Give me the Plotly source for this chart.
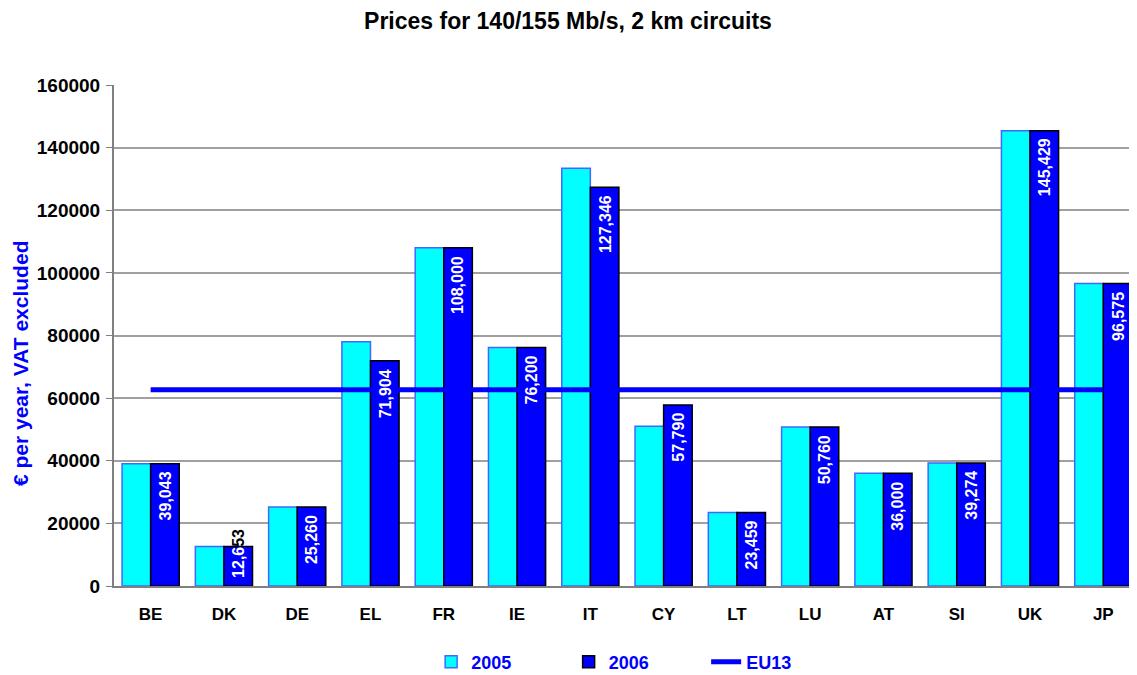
import plotly.graph_objects as go

categories = ["BE", "DK", "DE", "EL", "FR", "IE", "IT", "CY", "LT", "LU", "AT", "SI", "UK", "JP"]
prices_2005 = [39043, 12653, 25260, 78000, 108000, 76200, 133400, 51000, 23459, 50760, 36000, 39274, 145429, 96575]
prices_2006 = [39043, 12653, 25260, 71904, 108000, 76200, 127346, 57790, 23459, 50760, 36000, 39274, 145429, 96575]
eu13 = [62700] * len(categories)
y_ticks = [0, 20000, 40000, 60000, 80000, 100000, 120000, 140000, 160000]

FONT = "Liberation Sans, Arial, sans-serif"
BLUE = "#0000FF"

fig = go.Figure()
fig.add_trace(go.Bar(
    x=categories, y=prices_2005, name="2005",
    marker=dict(color="#00FFFF", line=dict(color="#4068FF", width=1.5)),
))
fig.add_trace(go.Bar(
    x=categories, y=prices_2006, name="2006",
    marker=dict(color=BLUE, line=dict(color="#000000", width=1.5)),
))
fig.add_trace(go.Scatter(
    x=categories, y=eu13, name="EU13", mode="lines",
    line=dict(color=BLUE, width=5),
))

# value labels on the 2006 bars (drawn above the EU13 line)
for cat, val in zip(categories, prices_2006):
    label = f"{val:,}"
    if val < 20000:
        # label longer than the bar: start from the base, overflow part in black
        text = f"<b>{label[:4]}<span style='color:black'>{label[4:]}</span></b>"
        fig.add_annotation(
            x=cat, y=0, xref="x", yref="y", text=text,
            showarrow=False, textangle=-90, xanchor="center", yanchor="bottom",
            xshift=14.5, yshift=6,
            font=dict(family=FONT, size=16, color="white"),
        )
    else:
        fig.add_annotation(
            x=cat, y=val, xref="x", yref="y", text=f"<b>{label}</b>",
            showarrow=False, textangle=-90, xanchor="center", yanchor="top",
            xshift=14.5, yshift=-6,
            font=dict(family=FONT, size=16, color="white"),
        )

# y-axis title
fig.add_annotation(
    x=-0.0919, y=0.445, xref="paper", yref="paper",
    text="<b>€ per year, VAT excluded</b>", showarrow=False, textangle=-90,
    xanchor="center", yanchor="middle",
    font=dict(family=FONT, size=21, color=BLUE),
)

fig.update_layout(
    width=1129, height=667,
    margin=dict(l=106, r=0, t=77, b=89),
    paper_bgcolor="white", plot_bgcolor="white",
    barmode="group", bargap=0.22, bargroupgap=0,
    title=dict(text="<b>Prices for 140/155 Mb/s, 2 km circuits</b>",
               x=0.496, xref="container", xanchor="center",
               y=0.981, yref="container", yanchor="middle",
               font=dict(family=FONT, size=23, color="black")),
    font=dict(family=FONT),
    legend=dict(orientation="h", x=0.31, xanchor="left",
                y=0.0195, yref="container", yanchor="middle",
                font=dict(family=FONT, size=18, color=BLUE, weight="bold"),
                entrywidth=92.5, entrywidthmode="pixels", traceorder="normal"),
    showlegend=True,
)
fig.update_xaxes(
    range=[-0.5, 13.46], showline=True, linecolor="#808080", linewidth=2,
    tickfont=dict(family=FONT, size=17, color="black", weight="bold"),
    ticks="", showgrid=False, ticklabelstandoff=12,
)
fig.update_yaxes(
    range=[0, 160000], tickvals=y_ticks, ticktext=[str(v) for v in y_ticks],
    showline=True, linecolor="#808080", linewidth=2,
    ticks="outside", ticklen=6, tickcolor="#808080", ticklabelstandoff=2,
    showgrid=True, gridcolor="#A0A0A0", gridwidth=1.5,
    tickfont=dict(family=FONT, size=19, color="black", weight="bold"),
    zeroline=False,
)

fig.write_html("out.html")
